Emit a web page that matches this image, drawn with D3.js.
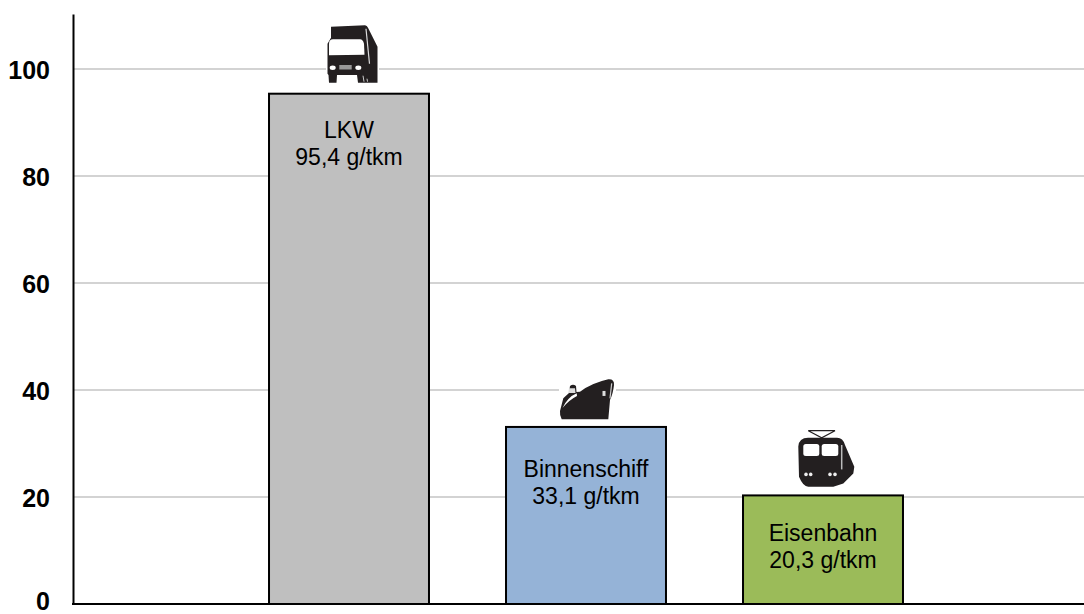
<!DOCTYPE html>
<html>
<head>
<meta charset="utf-8">
<script src="https://d3js.org/d3.v7.min.js"></script>
<style>
html,body{margin:0;padding:0;background:#fff;overflow:hidden}
svg{display:block}
text{font-family:"Liberation Sans",Arial,sans-serif}
</style>
</head>
<body>
<svg id="mainSVG" width="1084" height="614"></svg>
<script>
var categories = ['LKW','Binnenschiff','Eisenbahn'];
var values = [95.4,33.1,20.3];
var valueLabels = ['95,4 g/tkm','33,1 g/tkm','20,3 g/tkm'];
var barColors = ['#bfbfbf','#95b3d7','#9bbb59'];
var icons = ['truck','ship','train'];
var yTicks = [0,20,40,60,80,100];

var $svg = d3.select('#mainSVG');

var x = d3.scaleBand().domain(categories)
    .range([230.5,941.5]).paddingInner(.325).paddingOuter(.1625);
var y = d3.scaleLinear().domain([0,110.3]).range([604,14]);
var axisX = 73;
var labelDy = [44,50,46];
var lineGap = 27;
var ink = '#231f20';

// Icon shapes, relative to bar centre and bar top
var drawIcon = {};
drawIcon.truck = function($g){
    $g.append('rect').attr('x',-23).attr('y',-70).attr('width',53).attr('height',60).attr('fill','#fff');
    $g.append('path').attr('fill',ink)
        .attr('d','M-18 -67 L16 -68.5 Q18 -68.5 19 -66 L28.5 -47 L28.5 -11 L9 -11 L8 -18.7 L-12 -18.7 L-12.5 -11 L-20 -11 L-20.5 -18.7 L-21.5 -20 L-21.5 -50 L-18 -56 Z');
    $g.append('path').attr('fill','#fff')
        .attr('d','M-20 -50 Q-20 -54.5 -16 -54.5 L11 -54.5 Q14 -54.5 15 -50 L15.5 -39 L-20 -38.5 Z');
    $g.append('path').attr('fill','none').attr('stroke','#ddd').attr('stroke-width',1.2)
        .attr('d','M17 -65 L20.5 -30');
    $g.append('ellipse').attr('cx',-16.3).attr('cy',-26).attr('rx',3).attr('ry',2.2).attr('fill','#fff');
    $g.append('ellipse').attr('cx',9.3).attr('cy',-26).attr('rx',3).attr('ry',2.2).attr('fill','#fff');
    $g.append('rect').attr('x',-9.7).attr('y',-28.7).attr('width',12.4).attr('height',4.5).attr('fill','#999');
    $g.append('path').attr('fill','none').attr('stroke','#ccc').attr('stroke-width',1)
        .attr('d','M14 -18 L15 -12 M18 -15 L18.5 -12');
};
drawIcon.ship = function($g){
    $g.append('rect').attr('x',-27).attr('y',-44).attr('width',57).attr('height',20).attr('fill','#fff');
    $g.append('path').attr('fill',ink)
        .attr('d','M-24.3 -7.6 Q-26.5 -12 -26 -16 L-22.7 -28.6 L-17 -34 L-16 -41 Q-13 -43.5 -10 -41 L-9.5 -35 L-6 -35.2 Q6 -44 22.3 -47.6 Q28.5 -48 28 -41.9 Q27 -33 24 -27 L22.3 -7.6 Z');
    $g.append('path').attr('fill','#fff')
        .attr('d','M-23.5 -19 Q-18 -30 -9.3 -33.6 L-9 -31 Q-17 -27 -23.5 -19 Z');
    $g.append('path').attr('fill','#ddd')
        .attr('d','M-17.7 -34 L-17 -38.6 L-11 -38.6 L-10.5 -34 Z');
    $g.append('path').attr('fill','none').attr('stroke','#ccc').attr('stroke-width',1.2)
        .attr('d','M25.7 -43.6 L24 -28.6');
    $g.append('rect').attr('x',16.5).attr('y',-36).attr('width',3).attr('height',5).attr('fill','#ddd');
};
drawIcon.train = function($g){
    $g.append('path').attr('fill','none').attr('stroke',ink).attr('stroke-width',1.2)
        .attr('d','M-14.7 -64.7 L12 -64.7 L-1.3 -57.7 Z');
    $g.append('path').attr('fill',ink)
        .attr('d','M-24.7 -49 Q-24 -57.7 -15 -57.7 L14 -57.7 Q20 -57.7 22 -50.4 L31.3 -28.7 L30.3 -22 L20.3 -12 L10.3 -8.7 L-14.7 -8.7 Q-20 -9 -24 -18.7 Z');
    $g.append('rect').attr('x',-19.7).attr('y',-51.4).attr('width',16).attr('height',12).attr('rx',2.5).attr('fill','#fff');
    $g.append('rect').attr('x',-1.3).attr('y',-51.4).attr('width',16.6).attr('height',12).attr('rx',2.5).attr('fill','#fff');
    $g.append('path').attr('fill','none').attr('stroke','#bbb').attr('stroke-width',1.5)
        .attr('d','M18.7 -50.4 L18.7 -26');
    [-17,-12.3,7,12].forEach(cx=>{
        $g.append('circle').attr('cx',cx).attr('cy',-21).attr('r',1.8).attr('fill','#eee');
    });
};

// Gridlines
$svg.append('g').attr('id','grid')
    .selectAll('line').data(yTicks.filter(d=>d>0))
    .enter().append('line')
    .attr('x1',axisX).attr('x2',1084)
    .attr('y1',d=>y(d)).attr('y2',d=>y(d))
    .attr('stroke','#c4c4c4').attr('stroke-width',1.5);

// Y axis
var $yAxis = $svg.append('g')
    .attr('transform',`translate(${axisX},0)`)
    .call(d3.axisLeft(y).tickValues(yTicks).tickSize(0).tickPadding(23));
$yAxis.select('.domain').attr('stroke','#000').attr('stroke-width',2);
// zero label is nudged up so it stays inside the picture
$yAxis.selectAll('text')
    .style('font-family','"Liberation Sans",Arial,sans-serif')
    .style('font-size','25px').style('font-weight','bold').attr('fill','#000')
    .attr('dy',d=>d==0?'.2em':'.36em');

// Bars
$svg.append('g').attr('id','bars')
    .selectAll('rect').data(categories)
    .enter().append('rect')
    .attr('x',d=>x(d))
    .attr('y',(d,i)=>y(values[i]))
    .attr('width',x.bandwidth())
    .attr('height',(d,i)=>y(0)-y(values[i]))
    .attr('fill',(d,i)=>barColors[i])
    .attr('stroke','#000').attr('stroke-width',2);

// Baseline on top of the bars
$svg.append('line')
    .attr('x1',axisX-1).attr('x2',1084)
    .attr('y1',y(0)).attr('y2',y(0))
    .attr('stroke','#000').attr('stroke-width',2);

// Bar labels
var $labels = $svg.append('g').attr('id','labels')
    .selectAll('text').data(categories)
    .enter().append('text')
    .attr('text-anchor','middle')
    .attr('font-size',23)
    .attr('fill','#000');
$labels.append('tspan')
    .attr('x',d=>x(d)+x.bandwidth()/2)
    .attr('y',(d,i)=>y(values[i])+labelDy[i])
    .text(d=>d);
$labels.append('tspan')
    .attr('x',d=>x(d)+x.bandwidth()/2)
    .attr('y',(d,i)=>y(values[i])+labelDy[i]+lineGap)
    .text((d,i)=>valueLabels[i]);

// Icons
var $icons = $svg.append('g').attr('id','icons')
    .selectAll('g').data(categories)
    .enter().append('g')
    .attr('transform',(d,i)=>`translate(${x(d)+x.bandwidth()/2},${y(values[i])})`);

$icons.each(function(d,i){
    drawIcon[icons[i]](d3.select(this));
});
</script>
</body>
</html>
